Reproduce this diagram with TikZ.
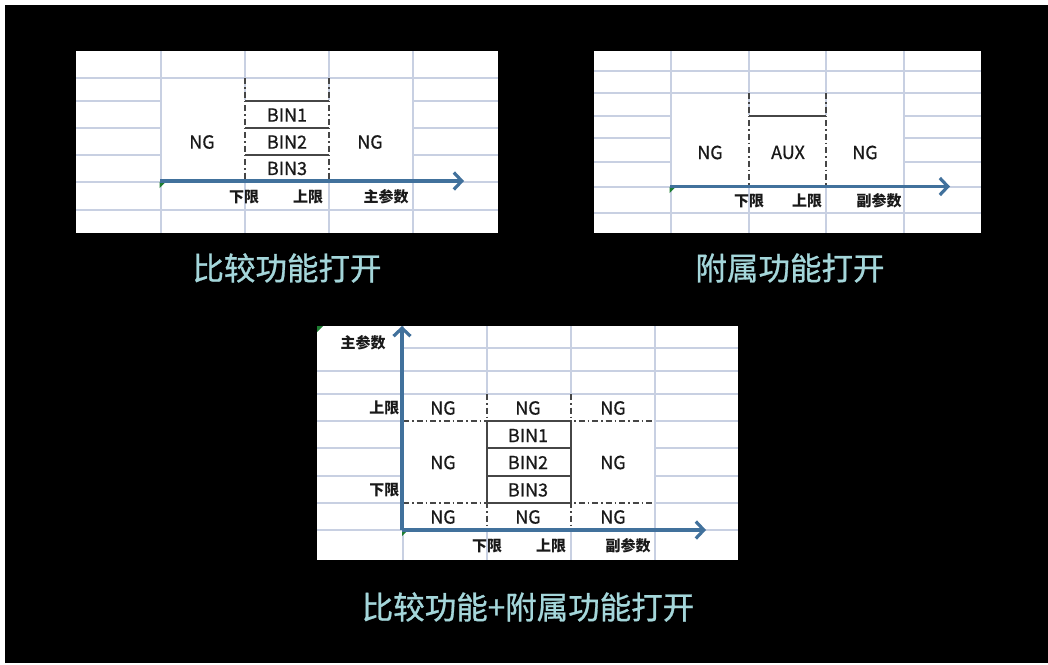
\documentclass[tikz,border=0pt]{standalone}
\usepackage{fontspec}
\setmainfont{Noto Sans CJK SC}
\newfontfamily\cellfont{Noto Sans CJK SC}[FakeBold=0.7]
\newfontfamily\titlefont{Noto Sans CJK SC}[FakeBold=0.9]
\usetikzlibrary{arrows.meta}
\definecolor{gridc}{RGB}{200,208,226}
\definecolor{dashc}{RGB}{70,70,70}
\definecolor{axisc}{RGB}{65,113,156}
\definecolor{titlec}{RGB}{164,214,218}
\definecolor{textc}{RGB}{25,25,25}
\definecolor{markc}{RGB}{30,125,50}
\tikzset{
  gridline/.style={draw=gridc, line width=1.1pt},
  dashdot/.style={draw=dashc, line width=1.5pt, dash pattern=on 6pt off 3pt on 1.5pt off 3pt},
  binline/.style={draw=dashc, line width=1.5pt},
  axisline/.style={draw=axisc, line width=3.2pt, -{Straight Barb[length=8pt,width=17pt]}},
  cell/.style={inner sep=0pt, text=textc, font=\cellfont\fontsize{18}{20}\selectfont},
  lbl/.style={inner sep=0pt, text=textc, font=\bfseries\fontsize{15}{17}\selectfont},
  ttl/.style={inner sep=0pt, text=titlec, font=\titlefont\fontsize{31.5}{34}\selectfont},
  cellmark/.style={fill=markc},
  cover/.style={fill=white},
}
\begin{document}
\begin{tikzpicture}[x=1pt,y=-1pt]
\useasboundingbox (0,0) rectangle (1048,664);
\fill[white] (0,0) rectangle (1048,664);
\fill[black] (5,5) rectangle (1048,663);

% ---------- Panel 1 ----------
\fill[white] (76,51) rectangle (498,233);
\foreach \x in {161,245,329,413} \draw[gridline] (\x,51) -- (\x,233);
\foreach \y in {78,101,128,155,182,210} \draw[gridline] (76,\y) -- (498,\y);
\fill[cover] (161.6,100.4) rectangle (412.4,182);
\draw[dashdot] (245,78) -- (245,182);
\draw[dashdot] (329,78) -- (329,182);
\foreach \y in {101,128,155} \draw[binline] (245,\y) -- (329,\y);
\fill[cellmark] (159.5,182) -- (165.5,182) -- (159.5,188) -- cycle;
\coordinate (a1s) at (160,181);
\coordinate (a1e) at (464,181);
\draw[axisline] (a1s) -- (a1e);
\node[cell] (p1ngl) at (202,142) {NG};
\node[cell] (p1ngr) at (370,142) {NG};
\node[cell] (p1b1) at (287,115) {BIN1};
\node[cell] (p1b2) at (287,142) {BIN2};
\node[cell] (p1b3) at (287,168.5) {BIN3};
\node[lbl] (p1lo) at (244,197) {下限};
\node[lbl] (p1hi) at (308,197) {上限};
\node[lbl] (p1main) at (386,197) {主参数};
\node[ttl] (t1) at (287,268) {比较功能打开};

% ---------- Panel 2 ----------
\fill[white] (594,51) rectangle (981,233);
\foreach \x in {671,749,826,904} \draw[gridline] (\x,51) -- (\x,233);
\foreach \y in {71,93,116,138,162,187,213} \draw[gridline] (594,\y) -- (981,\y);
\fill[cover] (671.6,115.4) rectangle (903.4,187);
\draw[dashdot] (749,93) -- (749,187);
\draw[dashdot] (826,93) -- (826,187);
\draw[binline] (749,116) -- (826,116);
\fill[cellmark] (669.5,187) -- (675.5,187) -- (669.5,193) -- cycle;
\coordinate (a2s) at (670,186.5);
\coordinate (a2e) at (950,186.5);
\draw[axisline] (a2s) -- (a2e);
\node[cell] (p2ngl) at (710,152.5) {NG};
\node[cell] (p2aux) at (788,152.5) {AUX};
\node[cell] (p2ngr) at (865,152.5) {NG};
\node[lbl] (p2lo) at (749,201) {下限};
\node[lbl] (p2hi) at (807,201) {上限};
\node[lbl] (p2sub) at (879,201) {副参数};
\node[ttl] (t2) at (790,268) {附属功能打开};

% ---------- Panel 3 ----------
\fill[white] (317,326) rectangle (738,560);
\foreach \x in {403,487,571,655} \draw[gridline] (\x,326) -- (\x,560);
\draw[gridline] (403,348) -- (738,348);
\foreach \y in {371,394,421,448,476,503,530} \draw[gridline] (317,\y) -- (738,\y);
\fill[cover] (403.6,394.6) rectangle (654.4,530);
\draw[dashdot] (403,421) -- (655,421);
\draw[dashdot] (403,503) -- (655,503);
\draw[dashdot] (487,394) -- (487,530);
\draw[dashdot] (571,394) -- (571,530);
\draw[binline] (487,421) rectangle (571,503);
\draw[binline] (487,448) -- (571,448);
\draw[binline] (487,476) -- (571,476);
\fill[cellmark] (317,326) -- (323,326) -- (317,332) -- cycle;
\fill[cellmark] (402,530) -- (408,530) -- (402,536) -- cycle;
\coordinate (o3) at (402,530);
\coordinate (a3y) at (402,326);
\coordinate (a3x) at (706,530);
\draw[axisline] (o3) -- (a3y);
\draw[axisline] (o3) -- (a3x);
\node[lbl] (p3main) at (363,343) {主参数};
\node[lbl, anchor=east] (p3hi) at (399.5,407.5) {上限};
\node[lbl, anchor=east] (p3lo) at (399.5,490) {下限};
\node[cell] (p3t1) at (443,408) {NG};
\node[cell] (p3t2) at (528,408) {NG};
\node[cell] (p3t3) at (613,408) {NG};
\node[cell] (p3m1) at (443,462.5) {NG};
\node[cell] (p3m3) at (613,462.5) {NG};
\node[cell] (p3b1) at (528,435.5) {BIN1};
\node[cell] (p3b2) at (528,462.5) {BIN2};
\node[cell] (p3b3) at (528,490) {BIN3};
\node[cell] (p3d1) at (443,517) {NG};
\node[cell] (p3d2) at (528,517) {NG};
\node[cell] (p3d3) at (613,517) {NG};
\node[lbl] (p3lox) at (487,546) {下限};
\node[lbl] (p3hix) at (551,546) {上限};
\node[lbl] (p3sub) at (628,546) {副参数};
\node[ttl] (t3) at (528,607) {比较功能+附属功能打开};
\end{tikzpicture}
\end{document}
